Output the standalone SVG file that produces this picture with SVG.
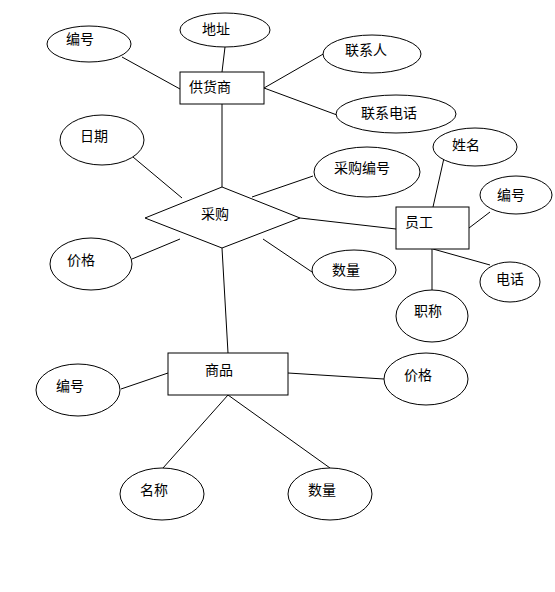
<svg xmlns="http://www.w3.org/2000/svg" width="555" height="592" viewBox="0 0 555 592">
<style>
.e{fill:#fff;stroke:#000;stroke-width:1}
.r{fill:#fff;stroke:#000;stroke-width:1}
.l{stroke:#000;stroke-width:1;fill:none}
text{font-family:"Liberation Sans","Noto Sans CJK SC",sans-serif;font-size:14px;fill:#000;text-anchor:middle;dominant-baseline:central}
</style>
<rect width="555" height="592" fill="#fff"/>
<g id="connectors">
<line class="l" x1="122" y1="57" x2="180" y2="89"/>
<line class="l" x1="225" y1="47" x2="222" y2="72"/>
<line class="l" x1="264" y1="88" x2="325" y2="53"/>
<line class="l" x1="264" y1="88" x2="337" y2="115"/>
<line class="l" x1="222" y1="104" x2="222" y2="187"/>
<line class="l" x1="133" y1="157" x2="182" y2="198"/>
<line class="l" x1="132" y1="259" x2="180" y2="239"/>
<line class="l" x1="252" y1="197" x2="313" y2="176"/>
<line class="l" x1="300" y1="218" x2="396" y2="229"/>
<line class="l" x1="263" y1="239" x2="312" y2="272"/>
<line class="l" x1="222" y1="248" x2="228" y2="353"/>
<line class="l" x1="444" y1="158" x2="433" y2="207"/>
<line class="l" x1="469" y1="228" x2="490" y2="212"/>
<line class="l" x1="433" y1="249" x2="490" y2="265"/>
<line class="l" x1="432" y1="249" x2="432" y2="290"/>
<line class="l" x1="121" y1="389" x2="168" y2="373"/>
<line class="l" x1="288" y1="373" x2="384" y2="379"/>
<line class="l" x1="228" y1="395" x2="163" y2="468"/>
<line class="l" x1="228" y1="395" x2="330" y2="468"/>
</g>
<g id="supplier"><rect class="r" x="180" y="72" width="84" height="32"/><text x="210" y="87">供货商</text></g>
<g id="s-id"><ellipse class="e" cx="89" cy="44" rx="42" ry="18"/><text x="80" y="39">编号</text></g>
<g id="s-addr"><ellipse class="e" cx="225" cy="30" rx="45" ry="17"/><text x="216" y="29">地址</text></g>
<g id="s-contact"><ellipse class="e" cx="372" cy="54" rx="49" ry="19"/><text x="366" y="50">联系人</text></g>
<g id="s-phone"><ellipse class="e" cx="396" cy="114" rx="60" ry="19"/><text x="389" y="113">联系电话</text></g>
<g id="purchase"><polygon class="r" points="145,218 222,187 300,218 222,248"/><text x="215" y="214">采购</text></g>
<g id="p-date"><ellipse class="e" cx="102" cy="140" rx="42" ry="25"/><text x="94" y="136">日期</text></g>
<g id="p-price"><ellipse class="e" cx="91" cy="264" rx="41" ry="26"/><text x="81" y="260">价格</text></g>
<g id="p-no"><ellipse class="e" cx="367" cy="172" rx="53" ry="25"/><text x="362" y="168">采购编号</text></g>
<g id="p-qty"><ellipse class="e" cx="354" cy="270" rx="42" ry="20"/><text x="346" y="270">数量</text></g>
<g id="employee"><rect class="r" x="396" y="207" width="73" height="42"/><text x="419" y="222">员工</text></g>
<g id="e-name"><ellipse class="e" cx="475" cy="147" rx="42" ry="19"/><text x="466" y="145">姓名</text></g>
<g id="e-id"><ellipse class="e" cx="516" cy="195" rx="36" ry="19"/><text x="511" y="195">编号</text></g>
<g id="e-phone"><ellipse class="e" cx="510" cy="282" rx="30" ry="20"/><text x="510" y="279">电话</text></g>
<g id="e-title"><ellipse class="e" cx="432" cy="316" rx="36" ry="26"/><text x="428" y="311">职称</text></g>
<g id="goods"><rect class="r" x="168" y="353" width="120" height="42"/><text x="219" y="370">商品</text></g>
<g id="g-id"><ellipse class="e" cx="78" cy="390" rx="42" ry="26"/><text x="70" y="386">编号</text></g>
<g id="g-price"><ellipse class="e" cx="426" cy="379" rx="42" ry="26"/><text x="418" y="375">价格</text></g>
<g id="g-name"><ellipse class="e" cx="162" cy="494" rx="42" ry="26"/><text x="154" y="490">名称</text></g>
<g id="g-qty"><ellipse class="e" cx="330" cy="494" rx="42" ry="26"/><text x="322" y="490">数量</text></g>
</svg>
